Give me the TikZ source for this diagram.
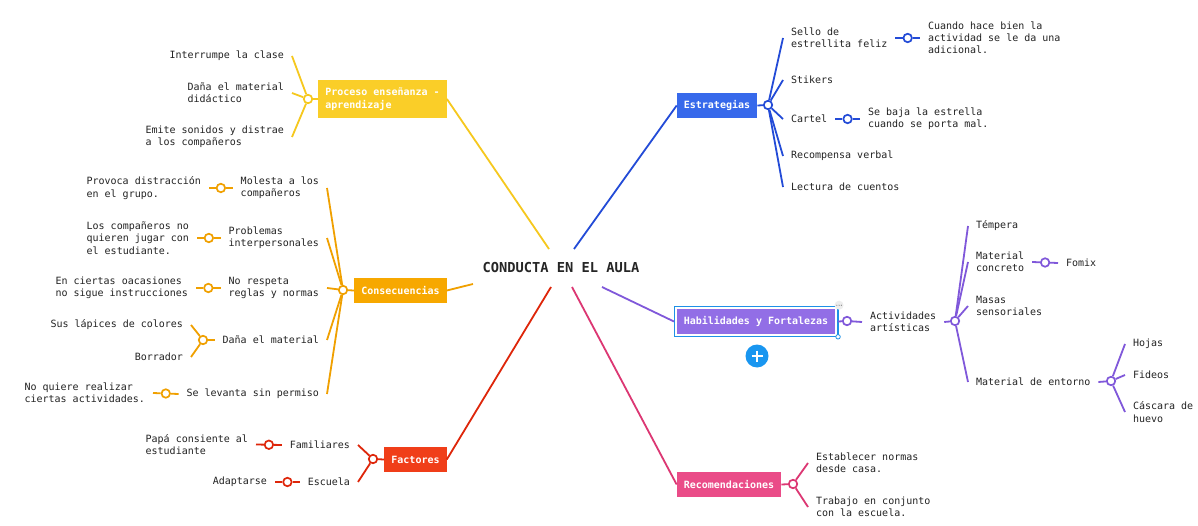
\documentclass[tikz,border=0pt]{standalone}
\usepackage{fontspec}
\newfontfamily\mono{DejaVu Sans Mono}
\usetikzlibrary{calc,fit}
\definecolor{txtc}{RGB}{35,35,35}
\definecolor{cy}{RGB}{246,200,30}
\definecolor{cyb}{RGB}{250,206,40}
\definecolor{co}{RGB}{240,160,0}
\definecolor{cob}{RGB}{247,168,0}
\definecolor{cr}{RGB}{222,38,10}
\definecolor{crb}{RGB}{240,62,25}
\definecolor{cb}{RGB}{35,75,215}
\definecolor{cbb}{RGB}{55,105,235}
\definecolor{cp}{RGB}{128,88,218}
\definecolor{cpb}{RGB}{146,110,230}
\definecolor{ck}{RGB}{220,55,115}
\definecolor{ckb}{RGB}{234,76,136}
\definecolor{selb}{RGB}{30,145,230}
\definecolor{plusb}{RGB}{25,150,240}
\tikzset{
  t/.style={font=\mono\fontsize{10}{12.2}\selectfont, text=txtc, align=left, inner sep=0pt, outer xsep=8pt, outer ysep=0pt},
  box/.style={font=\mono\bfseries\fontsize{10}{12.5}\selectfont, text=white, inner xsep=7pt, inner ysep=0pt, minimum height=25pt, align=left},
  jn/.style={circle, draw=#1, fill=white, line width=1.7pt, minimum size=8.5pt, inner sep=0pt},
  ln/.style={draw=#1, line width=1.8pt},
}
\begin{document}
\begin{tikzpicture}[x=1pt,y=-1pt]
\useasboundingbox[fill=white] (0,0) rectangle (1198,526);

% centre
\node[font=\mono\bfseries\fontsize{13.7}{16}\selectfont, text=black!85] (title) at (561,268) {CONDUCTA EN EL AULA};
\coordinate (ty) at (549,249);
\coordinate (tb) at (574,249);
\coordinate (to) at (473,284);
\coordinate (tr) at (551,287);
\coordinate (tk) at (572,287);
\coordinate (tp) at (602,287);

% ---------- yellow
\node[box, fill=cyb, minimum height=38pt] (proc) at (382.5,99) {Proceso enseñanza -\\aprendizaje};
\node[jn=cy] (jy) at (308,99) {};
\node[t, anchor=east] (y1) at (292,56) {Interrumpe la clase};
\node[t, anchor=east] (y2) at (292,93) {Daña el material\\didáctico};
\node[t, anchor=east] (y3) at (292,137) {Emite sonidos y distrae\\a los compañeros};
\draw[ln=cy] (proc.east) -- (ty);
\draw[ln=cy] (proc.west) -- (jy);
\draw[ln=cy] (jy) -- (y1.east);
\draw[ln=cy] (jy) -- (y2.east);
\draw[ln=cy] (jy) -- (y3.east);

% ---------- orange
\node[box, fill=cob] (cons) at (400.5,290.5) {Consecuencias};
\node[jn=co] (jo) at (343,290) {};
\node[t, anchor=east] (o1) at (327,188) {Molesta a los\\compañeros};
\node[t, anchor=east] (o2) at (327,238) {Problemas\\interpersonales};
\node[t, anchor=east] (o3) at (327,288) {No respeta\\reglas y normas};
\node[t, anchor=east] (o4) at (327,340) {Daña el material};
\node[t, anchor=east] (o5) at (327,394) {Se levanta sin permiso};
\node[t, anchor=east] (o1g) at (209,188) {Provoca distracción\\en el grupo.};
\node[t, anchor=east] (o2g) at (197,238) {Los compañeros no\\quieren jugar con\\el estudiante.};
\node[t, anchor=east] (o3g) at (196,288) {En ciertas oacasiones\\no sigue instrucciones};
\node[t, anchor=east] (o4a) at (191,325) {Sus lápices de colores};
\node[t, anchor=east] (o4b) at (191,357) {Borrador};
\node[t, anchor=east] (o5g) at (153,393) {No quiere realizar\\ciertas actividades.};
\node[jn=co] (jo1) at ($(o1.west)!0.5!(o1g.east)$) {};
\node[jn=co] (jo2) at ($(o2.west)!0.5!(o2g.east)$) {};
\node[jn=co] (jo3) at ($(o3.west)!0.5!(o3g.east)$) {};
\node[jn=co] (jo4) at (203,340) {};
\node[jn=co] (jo5) at ($(o5.west)!0.5!(o5g.east)$) {};
\draw[ln=co] (cons.east) -- (to);
\draw[ln=co] (cons.west) -- (jo);
\foreach \n in {o1,o2,o3,o4,o5} \draw[ln=co] (jo) -- (\n.east);
\draw[ln=co] (o1.west) -- (jo1) -- (o1g.east);
\draw[ln=co] (o2.west) -- (jo2) -- (o2g.east);
\draw[ln=co] (o3.west) -- (jo3) -- (o3g.east);
\draw[ln=co] (o4.west) -- (jo4);
\draw[ln=co] (jo4) -- (o4a.east);
\draw[ln=co] (jo4) -- (o4b.east);
\draw[ln=co] (o5.west) -- (jo5) -- (o5g.east);

% ---------- red
\node[box, fill=crb] (fact) at (415.5,459.5) {Factores};
\node[jn=cr] (jr) at (373,459) {};
\node[t, anchor=east] (r1) at (358,445) {Familiares};
\node[t, anchor=east] (r2) at (358,482) {Escuela};
\node[t, anchor=east] (r1g) at (256,444.5) {Papá consiente al\\estudiante};
\node[t, anchor=east] (r2g) at (275,482) {Adaptarse};
\node[jn=cr] (jr1) at ($(r1.west)!0.5!(r1g.east)$) {};
\node[jn=cr] (jr2) at ($(r2.west)!0.5!(r2g.east)$) {};
\draw[ln=cr] (fact.east) -- (tr);
\draw[ln=cr] (fact.west) -- (jr);
\draw[ln=cr] (jr) -- (r1.east);
\draw[ln=cr] (jr) -- (r2.east);
\draw[ln=cr] (r1.west) -- (jr1) -- (r1g.east);
\draw[ln=cr] (r2.west) -- (jr2) -- (r2g.east);

% ---------- blue
\node[box, fill=cbb] (estr) at (717,105.5) {Estrategias};
\node[jn=cb] (jb) at (768,105) {};
\node[t, anchor=west] (b1) at (783,38) {Sello de\\estrellita feliz};
\node[t, anchor=west] (b2) at (783,80) {Stikers};
\node[t, anchor=west] (b3) at (783,119) {Cartel};
\node[t, anchor=west] (b4) at (783,156) {Recompensa verbal};
\node[t, anchor=west] (b5) at (783,187) {Lectura de cuentos};
\node[t, anchor=west] (b1g) at (920,38) {Cuando hace bien la\\actividad se le da una\\adicional.};
\node[t, anchor=west] (b3g) at (860,119) {Se baja la estrella\\cuando se porta mal.};
\node[jn=cb] (jb1) at ($(b1.east)!0.5!(b1g.west)$) {};
\node[jn=cb] (jb3) at ($(b3.east)!0.5!(b3g.west)$) {};
\draw[ln=cb] (estr.west) -- (tb);
\draw[ln=cb] (estr.east) -- (jb);
\foreach \n in {b1,b2,b3,b4,b5} \draw[ln=cb] (jb) -- (\n.west);
\draw[ln=cb] (b1.east) -- (jb1) -- (b1g.west);
\draw[ln=cb] (b3.east) -- (jb3) -- (b3g.west);

% ---------- purple
\node[box, fill=cpb] (hab) at (756,321.5) {Habilidades y Fortalezas};
\node[fit=(hab), inner sep=2pt, draw=selb, line width=1.2pt] (sel) {};
\draw[selb, line width=2.2pt] (sel.north east) -- (sel.south east);
\node[circle, draw=selb, fill=white, line width=0.8pt, minimum size=4.5pt, inner sep=0pt] (hdl) at (sel.south east) {};
\node[circle, fill=black!7, minimum size=9pt, inner sep=0pt] (dots) at ($(sel.north east)+(1,-1)$) {};
\foreach \dx in {-2.2,0,2.2} \fill[black!60] ($(dots.center)+(\dx,0)$) circle (0.55);
\node[circle, fill=plusb, minimum size=23pt, inner sep=0pt] (plus) at (757,356) {};
\draw[white, line width=2pt] ($(plus.center)+(-5.5,0)$) -- ($(plus.center)+(5.5,0)$);
\draw[white, line width=2pt] ($(plus.center)+(0,-5.5)$) -- ($(plus.center)+(0,5.5)$);

\node[jn=cp] (jp) at (847,321) {};
\node[t, anchor=west] (p1) at (862,322) {Actividades\\artísticas};
\node[jn=cp] (jp1) at (955,321) {};
\node[t, anchor=west] (p2) at (968,226) {Témpera};
\node[t, anchor=west] (p3) at (968,262) {Material\\concreto};
\node[t, anchor=west] (p4) at (968,306) {Masas\\sensoriales};
\node[t, anchor=west] (p5) at (968,382) {Material de entorno};
\node[t, anchor=west] (p3g) at (1058,263) {Fomix};
\node[jn=cp] (jp3) at ($(p3.east)!0.5!(p3g.west)$) {};
\node[jn=cp] (jp5) at (1111,381) {};
\node[t, anchor=west] (p5a) at (1125,344) {Hojas};
\node[t, anchor=west] (p5b) at (1125,375) {Fideos};
\node[t, anchor=west] (p5c) at (1125,412) {Cáscara de\\huevo};
\draw[ln=cp] (sel.west) -- (tp);
\draw[ln=cp] (sel.east) -- (jp);
\draw[ln=cp] (jp) -- (p1.west);
\draw[ln=cp] (p1.east) -- (jp1);
\foreach \n in {p2,p3,p4,p5} \draw[ln=cp] (jp1) -- (\n.west);
\draw[ln=cp] (p3.east) -- (jp3) -- (p3g.west);
\draw[ln=cp] (p5.east) -- (jp5);
\foreach \n in {p5a,p5b,p5c} \draw[ln=cp] (jp5) -- (\n.west);

% ---------- pink
\node[box, fill=ckb] (reco) at (729,484.5) {Recomendaciones};
\node[jn=ck] (jk) at (793,484) {};
\node[t, anchor=west] (k1) at (808,463) {Establecer normas\\desde casa.};
\node[t, anchor=west] (k2) at (808,507) {Trabajo en conjunto\\con la escuela.};
\draw[ln=ck] (reco.west) -- (tk);
\draw[ln=ck] (reco.east) -- (jk);
\draw[ln=ck] (jk) -- (k1.west);
\draw[ln=ck] (jk) -- (k2.west);
\end{tikzpicture}
\end{document}
